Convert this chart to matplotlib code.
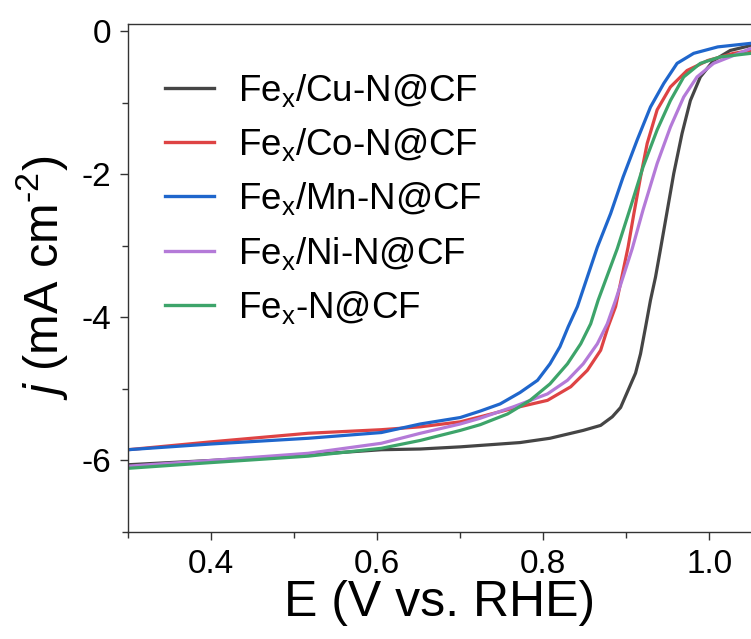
import matplotlib
matplotlib.use("Agg")
import matplotlib.pyplot as plt
from matplotlib.ticker import MultipleLocator, FuncFormatter

plt.rcParams['font.family'] = ['Liberation Sans', 'DejaVu Sans']
plt.rcParams['mathtext.fontset'] = 'custom'
plt.rcParams['mathtext.rm'] = 'Liberation Sans'
plt.rcParams['mathtext.it'] = 'Liberation Sans:italic'
plt.rcParams['mathtext.bf'] = 'Liberation Sans:bold'

labels = ['Fe$_\\mathrm{x}$/Cu-N@CF', 'Fe$_\\mathrm{x}$/Co-N@CF', 'Fe$_\\mathrm{x}$/Mn-N@CF',
          'Fe$_\\mathrm{x}$/Ni-N@CF', 'Fe$_\\mathrm{x}$-N@CF']
colors = ['#454545', '#de4344', '#1f66cc', '#b47ad8', '#3da46a']

E_cu = [0.30, 0.40, 0.517, 0.605, 0.652, 0.70, 0.724, 0.772, 0.808, 0.848, 0.869, 0.883, 0.893,
        0.902, 0.911, 0.917, 0.923, 0.929, 0.935, 0.941, 0.957, 0.967, 0.977, 0.989, 1.005,
        1.025, 1.05]
j_cu = [-6.06, -6.00, -5.92, -5.85, -5.84, -5.81, -5.79, -5.75, -5.69, -5.58, -5.51, -5.39, -5.26,
        -5.02, -4.78, -4.51, -4.14, -3.76, -3.44, -3.05, -1.99, -1.43, -0.97, -0.64, -0.41,
        -0.27, -0.20]

E_co = [0.30, 0.40, 0.517, 0.605, 0.652, 0.70, 0.724, 0.764, 0.805, 0.833, 0.853, 0.869, 0.878,
        0.887, 0.902, 0.909, 0.917, 0.925, 0.937, 0.953, 0.973, 0.998, 1.029, 1.05]
j_co = [-5.85, -5.74, -5.62, -5.57, -5.53, -5.46, -5.39, -5.27, -5.16, -4.97, -4.74, -4.46, -4.13,
        -3.85, -3.02, -2.55, -2.04, -1.57, -1.10, -0.78, -0.55, -0.41, -0.31, -0.27]

E_mn = [0.30, 0.40, 0.517, 0.605, 0.652, 0.70, 0.724, 0.748, 0.772, 0.793, 0.808, 0.820, 0.830,
        0.841, 0.865, 0.881, 0.896, 0.913, 0.929, 0.945, 0.961, 0.981, 1.010, 1.05]
j_mn = [-5.85, -5.77, -5.69, -5.61, -5.49, -5.40, -5.31, -5.21, -5.05, -4.88, -4.65, -4.41, -4.13,
        -3.85, -3.02, -2.55, -2.04, -1.52, -1.06, -0.73, -0.45, -0.31, -0.22, -0.17]

E_ni = [0.30, 0.40, 0.517, 0.605, 0.652, 0.70, 0.724, 0.764, 0.805, 0.829, 0.848, 0.865, 0.877,
        0.887, 0.907, 0.920, 0.937, 0.953, 0.969, 0.985, 1.005, 1.029, 1.05]
j_ni = [-6.08, -6.00, -5.90, -5.76, -5.62, -5.49, -5.41, -5.25, -5.07, -4.88, -4.65, -4.37, -4.09,
        -3.76, -3.04, -2.50, -1.85, -1.34, -0.92, -0.64, -0.45, -0.34, -0.24]

E_fe = [0.30, 0.40, 0.517, 0.605, 0.652, 0.70, 0.724, 0.757, 0.784, 0.808, 0.829, 0.845, 0.857,
        0.866, 0.889, 0.905, 0.920, 0.937, 0.953, 0.969, 0.989, 1.013, 1.05]
j_fe = [-6.11, -6.03, -5.94, -5.83, -5.72, -5.58, -5.50, -5.35, -5.16, -4.93, -4.65, -4.37, -4.09,
        -3.76, -3.04, -2.46, -1.90, -1.38, -0.97, -0.64, -0.45, -0.36, -0.31]

series = [(E_cu, j_cu), (E_co, j_co), (E_mn, j_mn), (E_ni, j_ni), (E_fe, j_fe)]

fig = plt.figure(figsize=(7.51, 6.39), dpi=100)
ax = fig.add_axes([128/751, 1 - 532/639, 1 - 128/751, (532 - 24)/639])

for (E, j), c, lab in zip(series, colors, labels):
    ax.plot(E, j, color=c, lw=2.3, label=lab, solid_joinstyle='round')

ax.set_xlim(0.3, 1.05)
ax.set_ylim(-7, 0.1)
ax.xaxis.set_major_locator(MultipleLocator(0.2))
ax.xaxis.set_minor_locator(MultipleLocator(0.1))
ax.yaxis.set_major_locator(MultipleLocator(2))
ax.yaxis.set_minor_locator(MultipleLocator(1))
ax.xaxis.set_major_formatter(FuncFormatter(lambda v, p: f"{v:.1f}"))
ax.yaxis.set_major_formatter(FuncFormatter(lambda v, p: f"{int(round(v))}"))

ax.tick_params(which='both', direction='out', top=False, right=False, labelsize=24, width=1.0,
               colors='#333333', labelcolor='black')
ax.tick_params(which='major', length=6, pad=6)
ax.tick_params(which='minor', length=4)
ax.spines['right'].set_visible(False)
for s in ['left', 'top', 'bottom']:
    ax.spines[s].set_linewidth(1.0)
    ax.spines[s].set_color('#333333')

ax.set_xlabel('E (V vs. RHE)', fontsize=36, labelpad=0)
ax.set_ylabel('$j$ (mA cm$^{\\text{-}2}$)', fontsize=35, labelpad=8)

leg = ax.legend(loc='upper left', bbox_to_anchor=(0.035, 0.935), frameon=False, fontsize=26.5,
                handlelength=1.35, handletextpad=0.65, labelspacing=0.47, borderaxespad=0)
for line in leg.get_lines():
    line.set_linewidth(2.4)

fig.savefig('out.png', dpi=100)
